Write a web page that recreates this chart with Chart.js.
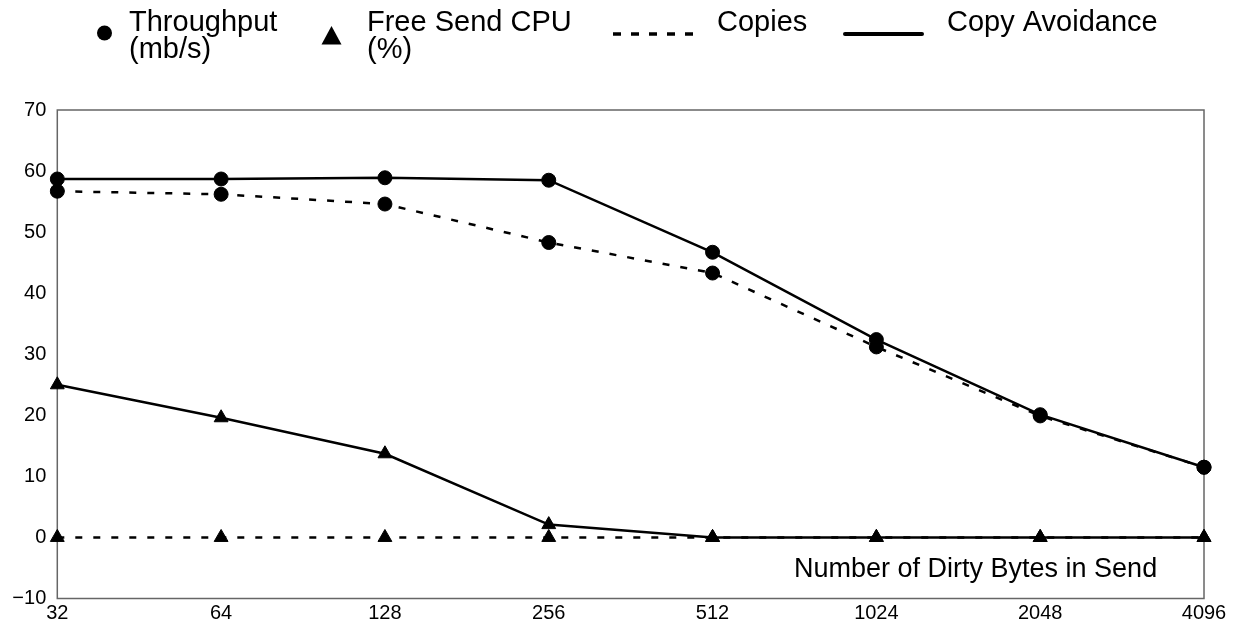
<!DOCTYPE html>
<html>
<head>
<meta charset="utf-8">
<script src="https://cdn.jsdelivr.net/npm/chart.js@4/dist/chart.umd.min.js"></script>
<style>
  html, body { margin: 0; padding: 0; background: #fff; }
  #wrap { width: 1234px; height: 626px; }
</style>
</head>
<body>
<div id="wrap"><canvas id="c" width="1234" height="626"></canvas></div>
<script>
// ---- data ----
const categories = ['32', '64', '128', '256', '512', '1024', '2048', '4096'];
const throughputCopies = [56.7, 56.2, 54.6, 48.3, 43.3, 31.2, 19.9, 11.5];
const throughputCopyAvoidance = [58.7, 58.7, 58.9, 58.5, 46.7, 32.4, 20.1, 11.5];
const cpuCopies = [0, 0, 0, 0, 0, 0, 0, 0];
const cpuCopyAvoidance = [25.0, 19.6, 13.7, 2.1, 0, 0, 0, 0];
const yMin = -10, yMax = 70, yStep = 10;
const legendTexts = [['Throughput', '(mb/s)'], ['Free Send CPU', '(%)'], ['Copies'], ['Copy Avoidance']];
const xAxisTitle = 'Number of Dirty Bytes in Send';

const FONT = "'Liberation Sans', Arial, Helvetica, sans-serif";
const DASH = [7, 11];

function ds(label, data, dashed, style, radius) {
  return {
    label, data,
    borderColor: '#000',
    backgroundColor: '#000',
    borderWidth: 2.5,
    borderDash: dashed ? DASH : [],
    pointStyle: style,
    pointRadius: radius,
    pointHoverRadius: radius,
    pointBorderWidth: 1,
    pointBorderColor: '#000',
    pointBackgroundColor: '#000',
    tension: 0,
    fill: false
  };
}

const decor = {
  id: 'decor',
  beforeDatasetsDraw(chart) {
    const { ctx, chartArea: a } = chart;
    ctx.save();
    ctx.strokeStyle = '#666';
    ctx.lineWidth = 1.5;
    ctx.strokeRect(a.left, a.top, a.right - a.left, a.bottom - a.top);
    ctx.restore();
  },
  afterDraw(chart) {
    const { ctx } = chart;
    ctx.save();
    ctx.fillStyle = '#000';
    ctx.strokeStyle = '#000';
    ctx.textAlign = 'left';
    ctx.textBaseline = 'alphabetic';
    ctx.font = '29px ' + FONT;
    // circle marker
    ctx.beginPath();
    ctx.arc(104.5, 33, 7.5, 0, Math.PI * 2);
    ctx.fill();
    ctx.fillText(legendTexts[0][0], 129, 31);
    ctx.fillText(legendTexts[0][1], 129, 57.5);
    // triangle marker
    ctx.beginPath();
    ctx.moveTo(331.5, 26);
    ctx.lineTo(341.5, 44.5);
    ctx.lineTo(321.5, 44.5);
    ctx.closePath();
    ctx.fill();
    ctx.fillText(legendTexts[1][0], 367, 31);
    ctx.fillText(legendTexts[1][1], 367, 57.5);
    // dashed line
    ctx.lineWidth = 3.5;
    ctx.setLineDash([8, 10]);
    ctx.beginPath();
    ctx.moveTo(613, 34);
    ctx.lineTo(694, 34);
    ctx.stroke();
    ctx.setLineDash([]);
    ctx.fillText(legendTexts[2][0], 717, 30.5);
    // solid line
    ctx.lineWidth = 4;
    ctx.lineCap = 'round';
    ctx.beginPath();
    ctx.moveTo(845, 34);
    ctx.lineTo(922, 34);
    ctx.stroke();
    ctx.fillText(legendTexts[3][0], 947, 31);
    // axis title inside plot
    ctx.font = '27px ' + FONT;
    ctx.fillText(xAxisTitle, 794, 577);
    ctx.restore();
  }
};

new Chart(document.getElementById('c'), {
  type: 'line',
  data: {
    labels: categories,
    datasets: [
      ds('Throughput Copies', throughputCopies, true, 'circle', 7),
      ds('Throughput Copy Avoidance', throughputCopyAvoidance, false, 'circle', 7),
      ds('CPU Copies', cpuCopies, true, 'triangle', 8),
      ds('CPU Copy Avoidance', cpuCopyAvoidance, false, 'triangle', 8)
    ]
  },
  options: {
    responsive: false,
    animation: false,
    events: [],
    layout: { padding: { top: 110, right: 30, left: 0, bottom: 0 } },
    plugins: { legend: { display: false }, tooltip: { enabled: false } },
    scales: {
      x: {
        type: 'category',
        offset: false,
        grid: { display: false, drawTicks: false },
        border: { display: false },
        ticks: { color: '#000', font: { family: FONT, size: 20 }, padding: 3, maxRotation: 0, autoSkip: false },
        afterFit(s) { s.height = 27.5; }
      },
      y: {
        min: yMin, max: yMax,
        grid: { display: false, drawTicks: false },
        border: { display: false },
        ticks: {
          stepSize: yStep,
          color: '#000',
          font: { family: FONT, size: 20 },
          padding: 11,
          callback: v => (v < 0 ? '\u2212' + Math.abs(v) : String(v))
        },
        afterFit(s) { s.width = 57.3; }
      }
    }
  },
  plugins: [decor]
});
</script>
</body>
</html>
